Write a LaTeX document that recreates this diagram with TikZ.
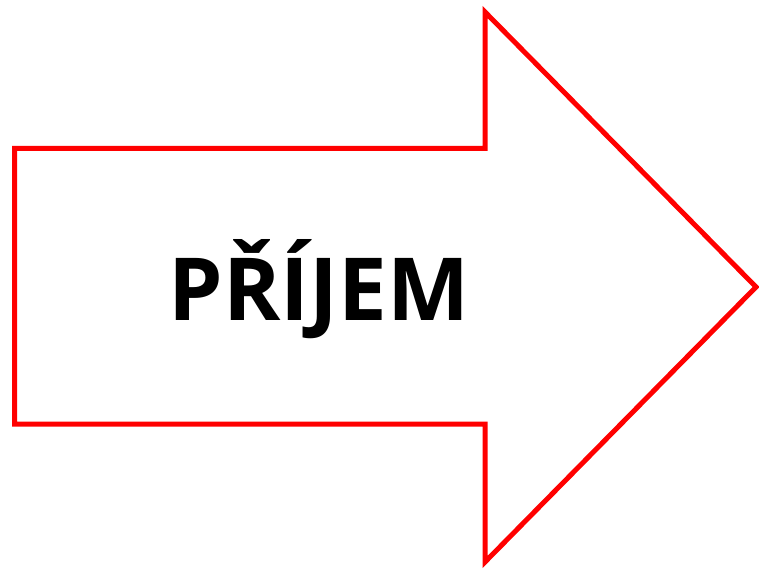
\documentclass[tikz,border=0pt]{standalone}
\usepackage{fontspec}
\setmainfont{Open Sans}
\usetikzlibrary{positioning}
\definecolor{ArrowRed}{HTML}{FF0000}

\begin{document}
\begin{tikzpicture}[x=1pt,y=1pt]
        \useasboundingbox (0,0) rectangle (759,570);
        \draw[ArrowRed,line width=5pt,miter limit=10] (14.5,421.5)--(485,421.5)--(485,558)--(756,283)--(485,8)--(485,146)--(14.5,146)--cycle;
        \node[font=\fontsize{87}{90}\selectfont\bfseries,inner sep=0pt] (label) at (319,281) {PŘÍJEM};
      \end{tikzpicture}
\end{document}
